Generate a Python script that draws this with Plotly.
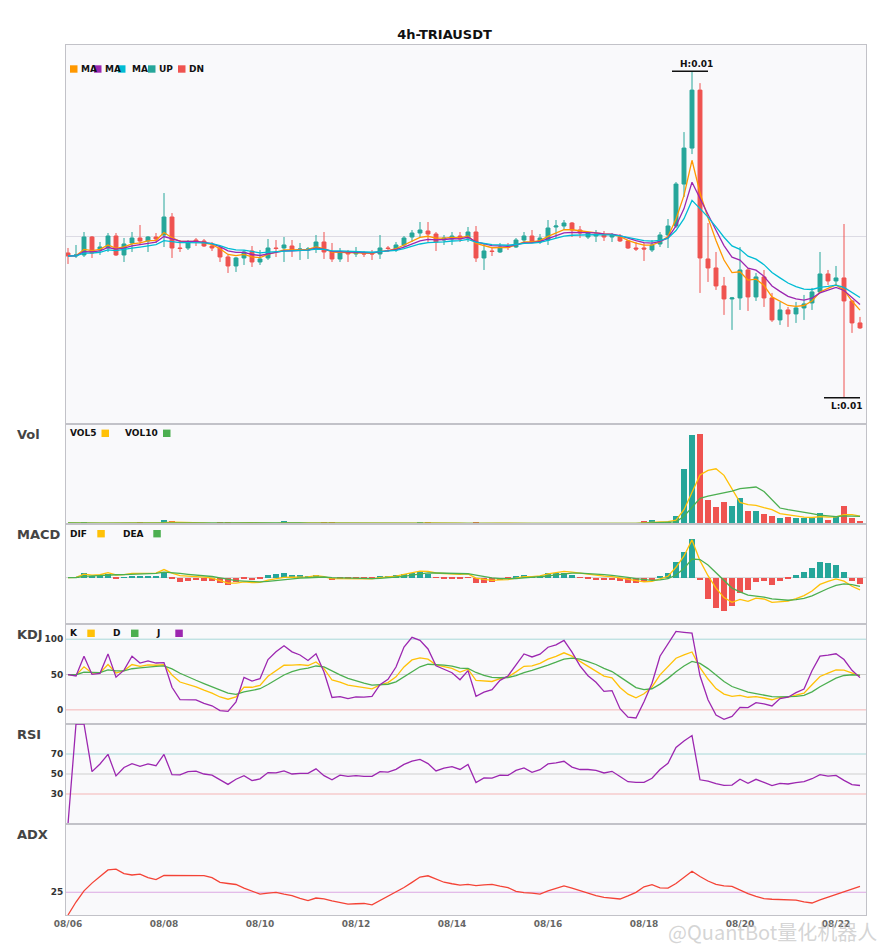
import numpy as np
import pandas as pd
import plotly.graph_objects as go
from plotly.subplots import make_subplots

TITLE = "4h-TRIAUSDT"
START = "2025-08-06 00:00"
N_BARS = 100

open_ = [0.00866, 0.00860, 0.00862, 0.00898, 0.00872, 0.00876, 0.00900, 0.00862, 0.00886, 0.00896,
         0.00890, 0.00898, 0.00902, 0.00938, 0.00876, 0.00876, 0.00892, 0.00890, 0.00880, 0.00876,
         0.00858, 0.00840, 0.00856, 0.00870, 0.00848, 0.00856, 0.00876, 0.00876, 0.00880, 0.00872,
         0.00872, 0.00876, 0.00888, 0.00868, 0.00854, 0.00868, 0.00864, 0.00866, 0.00866, 0.00864,
         0.00876, 0.00872, 0.00882, 0.00898, 0.00906, 0.00910, 0.00904, 0.00892, 0.00894, 0.00900,
         0.00896, 0.00908, 0.00856, 0.00870, 0.00868, 0.00878, 0.00878, 0.00892, 0.00900, 0.00888,
         0.00892, 0.00918, 0.00920, 0.00926, 0.00912, 0.00898, 0.00900, 0.00902, 0.00898, 0.00898,
         0.00890, 0.00876, 0.00876, 0.00872, 0.00884, 0.00902, 0.00920, 0.01004, 0.01076, 0.01192,
         0.00854, 0.00836, 0.00800, 0.00774, 0.00776, 0.00832, 0.00778, 0.00818, 0.00776, 0.00732,
         0.00752, 0.00744, 0.00756, 0.00766, 0.00788, 0.00824, 0.00810, 0.00816, 0.00770, 0.00726]
high = [0.00876, 0.00882, 0.00908, 0.00900, 0.00888, 0.00906, 0.00906, 0.00896, 0.00908, 0.00922,
        0.00900, 0.00906, 0.00986, 0.00946, 0.00892, 0.00892, 0.00896, 0.00894, 0.00888, 0.00880,
        0.00862, 0.00858, 0.00872, 0.00880, 0.00872, 0.00894, 0.00892, 0.00898, 0.00892, 0.00886,
        0.00878, 0.00902, 0.00908, 0.00886, 0.00876, 0.00872, 0.00878, 0.00870, 0.00872, 0.00902,
        0.00880, 0.00888, 0.00900, 0.00912, 0.00928, 0.00928, 0.00908, 0.00902, 0.00908, 0.00908,
        0.00918, 0.00920, 0.00886, 0.00876, 0.00886, 0.00886, 0.00896, 0.00908, 0.00912, 0.00904,
        0.00932, 0.00932, 0.00932, 0.00928, 0.00920, 0.00908, 0.00912, 0.00910, 0.00906, 0.00904,
        0.00892, 0.00888, 0.00886, 0.00892, 0.00908, 0.00934, 0.01008, 0.01108, 0.01230, 0.01206,
        0.00926, 0.00868, 0.00818, 0.00778, 0.00878, 0.00836, 0.00826, 0.00832, 0.00786, 0.00768,
        0.00758, 0.00768, 0.00782, 0.00796, 0.00868, 0.00832, 0.00840, 0.00924, 0.00772, 0.00738]
low = [0.00844, 0.00856, 0.00858, 0.00856, 0.00862, 0.00868, 0.00860, 0.00848, 0.00868, 0.00882,
       0.00868, 0.00886, 0.00878, 0.00856, 0.00868, 0.00872, 0.00880, 0.00878, 0.00870, 0.00848,
       0.00826, 0.00828, 0.00842, 0.00838, 0.00842, 0.00852, 0.00858, 0.00848, 0.00858, 0.00852,
       0.00854, 0.00866, 0.00854, 0.00848, 0.00848, 0.00848, 0.00858, 0.00858, 0.00852, 0.00854,
       0.00868, 0.00868, 0.00878, 0.00888, 0.00898, 0.00888, 0.00870, 0.00882, 0.00882, 0.00888,
       0.00888, 0.00848, 0.00832, 0.00860, 0.00866, 0.00872, 0.00876, 0.00886, 0.00886, 0.00884,
       0.00882, 0.00896, 0.00912, 0.00898, 0.00896, 0.00894, 0.00888, 0.00890, 0.00888, 0.00888,
       0.00874, 0.00870, 0.00850, 0.00868, 0.00878, 0.00876, 0.00916, 0.00978, 0.01064, 0.00786,
       0.00808, 0.00792, 0.00742, 0.00712, 0.00752, 0.00750, 0.00770, 0.00758, 0.00728, 0.00722,
       0.00718, 0.00726, 0.00732, 0.00752, 0.00786, 0.00802, 0.00802, 0.00576, 0.00706, 0.00714]
close = [0.00860, 0.00862, 0.00898, 0.00866, 0.00878, 0.00900, 0.00862, 0.00884, 0.00896, 0.00890,
         0.00898, 0.00894, 0.00938, 0.00876, 0.00875, 0.00888, 0.00890, 0.00880, 0.00876, 0.00858,
         0.00840, 0.00856, 0.00868, 0.00848, 0.00854, 0.00876, 0.00875, 0.00882, 0.00872, 0.00874,
         0.00874, 0.00888, 0.00868, 0.00854, 0.00868, 0.00864, 0.00866, 0.00864, 0.00864, 0.00876,
         0.00875, 0.00882, 0.00896, 0.00906, 0.00912, 0.00904, 0.00888, 0.00896, 0.00900, 0.00894,
         0.00908, 0.00856, 0.00870, 0.00869, 0.00878, 0.00877, 0.00892, 0.00900, 0.00888, 0.00896,
         0.00916, 0.00920, 0.00926, 0.00912, 0.00906, 0.00906, 0.00904, 0.00898, 0.00902, 0.00890,
         0.00876, 0.00874, 0.00874, 0.00882, 0.00902, 0.00920, 0.01004, 0.01076, 0.01192, 0.00856,
         0.00836, 0.00800, 0.00774, 0.00776, 0.00832, 0.00778, 0.00818, 0.00776, 0.00732, 0.00752,
         0.00744, 0.00756, 0.00764, 0.00788, 0.00824, 0.00810, 0.00816, 0.00770, 0.00726, 0.00716]
# volume, thousands of TRIA
volume = [100, 60, 120, 100, 50, 80, 90, 70, 60, 130,
          50, 60, 430, 300, 100, 60, 50, 60, 70, 200,
          220, 100, 60, 100, 50, 100, 50, 300, 80, 40,
          40, 80, 120, 160, 80, 50, 30, 30, 40, 90,
          40, 50, 70, 90, 220, 130, 90, 50, 60, 50,
          90, 180, 80, 40, 50, 30, 60, 100, 80, 50,
          100, 80, 60, 70, 50, 30, 40, 30, 30, 60,
          100, 100, 270, 370, 230, 200, 830, 5530, 8930, 9030,
          2430, 1700, 2230, 1830, 2630, 1330, 1330, 1030, 830, 630,
          730, 630, 630, 630, 1100, 430, 730, 1830, 630, 330]

MA_SPANS = [5, 8, 13]
MACD_FAST, MACD_SLOW, MACD_SIGNAL = 6, 13, 5
ADX_PERIOD = 7
UP = "#26a69a"
DN = "#ef5350"
MA_COLORS = ["#ff9800", "#9c27b0", "#00bcd4"]
YELLOW = "#ffc107"
GREEN = "#4caf50"
PURPLE = "#9c27b0"
FONT = "DejaVu Sans"

dates = pd.date_range(START, periods=N_BARS, freq="4h")
df = pd.DataFrame({"open": open_, "high": high, "low": low, "close": close, "volume": volume})
c, h, l, v = df["close"], df["high"], df["low"], df["volume"]

# indicators
mas = [c.ewm(span=s, adjust=False).mean() for s in MA_SPANS]
vol5 = v.rolling(5, min_periods=1).mean()
vol10 = v.rolling(10, min_periods=1).mean()

dif = c.ewm(span=MACD_FAST, adjust=False).mean() - c.ewm(span=MACD_SLOW, adjust=False).mean()
dea = dif.ewm(span=MACD_SIGNAL, adjust=False).mean()
hist = 2 * (dif - dea)

llv = l.rolling(9, min_periods=1).min()
hhv = h.rolling(9, min_periods=1).max()
rsv = ((c - llv) / (hhv - llv) * 100).fillna(50)
k_vals, d_vals = [], []
kp, dp = 50.0, 50.0
for r in rsv:
    kp = kp * 2 / 3 + r / 3
    dp = dp * 2 / 3 + kp / 3
    k_vals.append(kp)
    d_vals.append(dp)
k_line = pd.Series(k_vals)
d_line = pd.Series(d_vals)
j_line = 3 * k_line - 2 * d_line

delta = c.diff().fillna(0)
gain = delta.clip(lower=0).ewm(alpha=1 / 14, adjust=False).mean()
loss = (-delta).clip(lower=0).ewm(alpha=1 / 14, adjust=False).mean()
rsi = (100 * gain / (gain + loss)).fillna(0)

prev_c = c.shift(1)
tr = pd.concat([h - l, (h - prev_c).abs(), (l - prev_c).abs()], axis=1).max(axis=1)
up_move = h.diff()
dn_move = -l.diff()
pdm = pd.Series(np.where((up_move > dn_move) & (up_move > 0), up_move, 0.0))
mdm = pd.Series(np.where((dn_move > up_move) & (dn_move > 0), dn_move, 0.0))
a_adx = 1 / ADX_PERIOD
atr = tr.ewm(alpha=a_adx, adjust=False).mean()
pdi = 100 * pdm.ewm(alpha=a_adx, adjust=False).mean() / atr
mdi = 100 * mdm.ewm(alpha=a_adx, adjust=False).mean() / atr
dx = (100 * (pdi - mdi).abs() / (pdi + mdi)).fillna(0)
adx = dx.ewm(alpha=a_adx, adjust=False).mean()

bar_colors = [UP if cl >= op else DN for op, cl in zip(open_, close)]
hist_colors = [UP if x >= 0 else DN for x in hist]
bar_w = 3 * 3600 * 1000  # 3h of a 4h slot, in ms

fig = make_subplots(rows=6, cols=1, shared_xaxes=True, vertical_spacing=0,
                    row_heights=[379, 100, 100, 100, 100, 91])

fig.add_trace(go.Candlestick(
    x=dates, open=open_, high=high, low=low, close=close,
    increasing=dict(line=dict(color=UP, width=1), fillcolor=UP),
    decreasing=dict(line=dict(color=DN, width=1), fillcolor=DN),
    whiskerwidth=0, showlegend=False), row=1, col=1)
for ma, col in zip(mas, MA_COLORS):
    fig.add_trace(go.Scatter(x=dates, y=ma, mode="lines", line=dict(color=col, width=1.3),
                             showlegend=False), row=1, col=1)

fig.add_trace(go.Bar(x=dates, y=v, width=bar_w, marker=dict(color=bar_colors, line_width=0),
                     showlegend=False), row=2, col=1)
fig.add_trace(go.Scatter(x=dates, y=vol5, mode="lines", line=dict(color=YELLOW, width=1.3),
                         showlegend=False), row=2, col=1)
fig.add_trace(go.Scatter(x=dates, y=vol10, mode="lines", line=dict(color=GREEN, width=1.3),
                         showlegend=False), row=2, col=1)

fig.add_trace(go.Bar(x=dates, y=hist, width=bar_w, marker=dict(color=hist_colors, line_width=0),
                     showlegend=False), row=3, col=1)
fig.add_trace(go.Scatter(x=dates, y=dif, mode="lines", line=dict(color=YELLOW, width=1.3),
                         showlegend=False), row=3, col=1)
fig.add_trace(go.Scatter(x=dates, y=dea, mode="lines", line=dict(color=GREEN, width=1.3),
                         showlegend=False), row=3, col=1)

for series, col in [(k_line, YELLOW), (d_line, GREEN), (j_line, PURPLE)]:
    fig.add_trace(go.Scatter(x=dates, y=series, mode="lines", line=dict(color=col, width=1.3),
                             showlegend=False), row=4, col=1)

fig.add_trace(go.Scatter(x=dates, y=rsi, mode="lines", line=dict(color=PURPLE, width=1.3),
                         showlegend=False), row=5, col=1)
fig.add_trace(go.Scatter(x=dates, y=adx, mode="lines", line=dict(color="#f44336", width=1.3),
                         showlegend=False), row=6, col=1)

# reference levels
levels = [(4, 100, "#a8d8d8"), (4, 50, "#cfcfcf"), (4, 0, "#f5b5b5"),
          (5, 70, "#a8d8d8"), (5, 50, "#cfcfcf"), (5, 30, "#f5b5b5"),
          (6, 25, "#dba8e3"), (3, 0, "#d6d6d6")]
for row, yv, col in levels:
    fig.add_hline(y=yv, line=dict(color=col, width=1), layer="below", row=row, col=1)

# axis ranges
p_hi, p_lo = max(high), min(low)
p_pad = (p_hi - p_lo) * 0.08
m_lo = min(hist.min(), dif.min(), dea.min())
m_hi = max(hist.max(), dif.max(), dea.max())
x0 = dates[0] - pd.Timedelta(hours=1)
x1 = dates[-1] + pd.Timedelta(hours=3)

axis_line = dict(showline=True, mirror=True, linecolor="#c2c2c8", linewidth=1)
fig.update_xaxes(range=[x0, x1], showgrid=False, rangeslider_visible=False, ticks="",
                 **axis_line)
fig.update_xaxes(tickformat="%m/%d", dtick=2 * 86400000, tick0=dates[0],
                 tickfont=dict(size=9, color="#666", weight="bold"), row=6, col=1)
tick_font = dict(size=9, color="#333", weight="bold")
fig.update_yaxes(showgrid=False, zeroline=False, ticks="", tickfont=tick_font, **axis_line)
fig.update_yaxes(range=[p_lo - p_pad, p_hi + p_pad], tickvals=[0.009], showticklabels=False,
                 showgrid=True, gridcolor="#dcdbe4", row=1, col=1)
fig.update_yaxes(range=[0, v.max() * 1.107], showticklabels=False, row=2, col=1)
fig.update_yaxes(range=[1.4 * m_lo, 1.4 * m_hi], showticklabels=False, row=3, col=1)
fig.update_yaxes(range=[-20, 121.5], tickvals=[0, 50, 100], row=4, col=1)
fig.update_yaxes(range=[0, 100], tickvals=[30, 50, 70], row=5, col=1)
fig.update_yaxes(range=[0, 100], tickvals=[25], row=6, col=1)

# page is drawn with an 8px body margin, so the figure itself is 8px smaller
PAGE_OFF = 8
PLOT_L, PLOT_W = 66, 800


def px(x_pixel):
    return (x_pixel - PLOT_L) / PLOT_W


def yref(row):
    return "y domain" if row == 1 else f"y{row} domain"


def add_key(row, items, down):
    for label, col, sq_x, tx_x in items:
        fig.add_shape(type="rect", xref="paper", x0=px(sq_x), x1=px(sq_x + 7.5),
                      yref=yref(row), ysizemode="pixel", yanchor=1,
                      y0=-down - 3.7, y1=-down + 3.7, fillcolor=col, line_width=0)
        fig.add_annotation(text=f"<b>{label}</b>", xref="paper", x=px(tx_x), xanchor="left",
                           yref=yref(row), y=1, yanchor="middle", yshift=-down, xshift=-2,
                           showarrow=False, font=dict(size=9, color="#111"))


add_key(1, [("MA", MA_COLORS[0], 70, 81), ("MA", MA_COLORS[1], 94, 105),
            ("MA", MA_COLORS[2], 118, 131.5), ("UP", UP, 148, 159), ("DN", DN, 178, 189)], 24)
add_key(2, [("VOL5", YELLOW, 101.5, 70), ("VOL10", GREEN, 163, 125)], 9.3)
add_key(3, [("DIF", YELLOW, 97.3, 70), ("DEA", GREEN, 153.3, 123.3)], 9.7)
add_key(4, [("K", YELLOW, 87.3, 70), ("D", GREEN, 131, 113.3), ("J", PURPLE, 175.3, 156.3)], 9.3)

for row, name in [(2, "Vol"), (3, "MACD"), (4, "KDJ"), (5, "RSI"), (6, "ADX")]:
    fig.add_annotation(text=f"<b>{name}</b>", xref="paper", x=px(15), xanchor="left",
                       yref=yref(row), y=1, yanchor="middle", yshift=-10.5, showarrow=False,
                       font=dict(size=13, color="#444"))

# highest high / lowest low markers
i_hi = int(np.argmax(high))
i_lo = int(np.argmin(low))
bar = pd.Timedelta(hours=4)
fig.add_shape(type="line", xref="x", yref="y", x0=dates[i_hi] - 2.5 * bar,
              x1=dates[i_hi] + 2 * bar, y0=p_hi, y1=p_hi, line=dict(color="#111", width=1.5))
fig.add_annotation(text=f"<b>H:{p_hi:.2f}</b>", xref="x", yref="y",
                   x=dates[i_hi] + pd.Timedelta(hours=2), y=p_hi, yanchor="bottom", yshift=0,
                   showarrow=False, font=dict(size=9, color="#111"))
fig.add_shape(type="line", xref="x", yref="y", x0=dates[i_lo] - 2.5 * bar,
              x1=dates[i_lo] + 2 * bar, y0=p_lo, y1=p_lo, line=dict(color="#111", width=1.5))
fig.add_annotation(text=f"<b>L:{p_lo:.2f}</b>", xref="x", yref="y",
                   x=dates[i_lo] + pd.Timedelta(hours=1.5), y=p_lo, yanchor="top", yshift=-1,
                   showarrow=False, font=dict(size=9, color="#111"))

fig.add_annotation(text="@QuantBot量化机器人", xref="paper", yref="paper",
                   x=px(879), y=0, xanchor="right", yanchor="top", yshift=0,
                   showarrow=False,
                   font=dict(family="Noto Sans CJK SC", size=20, color="rgba(185,185,185,0.6)"))

fig_w, fig_h = 885 - PAGE_OFF, 950 - PAGE_OFF
fig.update_layout(
    width=fig_w, height=fig_h,
    title=dict(text=f"<b>{TITLE}</b>", x=(444.5 - PAGE_OFF) / fig_w, xref="container",
               xanchor="center", y=1 - (34 - PAGE_OFF) / fig_h, yanchor="middle",
               font=dict(size=13, color="#111")),
    font=dict(family=FONT, color="#333"),
    paper_bgcolor="white",
    plot_bgcolor="#f9f9fb",
    margin=dict(l=66 - PAGE_OFF, r=19, t=45 - PAGE_OFF, b=35),
    bargap=0,
    showlegend=False,
    hovermode="x",
)

fig.write_html("out.html")
